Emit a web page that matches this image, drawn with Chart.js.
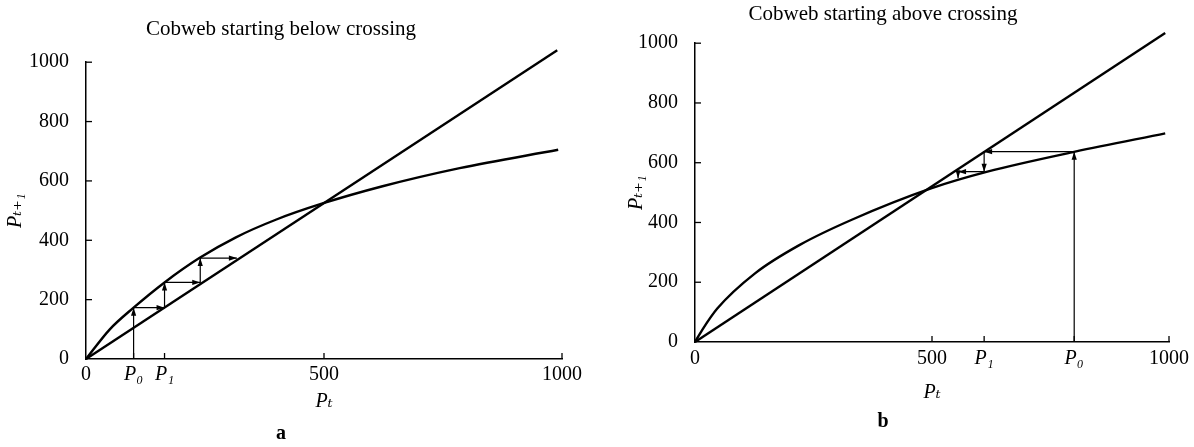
<!DOCTYPE html>
<html>
<head>
<meta charset="utf-8">
<script src="https://cdn.jsdelivr.net/npm/chart.js@4"></script>
<style>
  html, body { margin: 0; padding: 0; background: #fff; }
  .panel { position: absolute; top: 0; width: 597px; height: 447px; }
  #panelA { left: 0; }
  #panelB { left: 597px; }
</style>
</head>
<body>
<div class="panel" id="panelA"><canvas id="chartA"></canvas></div>
<div class="panel" id="panelB"><canvas id="chartB"></canvas></div>
<script>
// ---- panel a : starting below crossing ----
const diagAx = [0, 990];
const diagAy = [0, 1040];
const curveAx = [0, 50, 100, 165, 238, 315, 400, 497, 623, 785, 992];
const curveAy = [0, 100, 173, 258, 340, 410, 470, 524, 582, 643, 705];
const cobwebAx = [100, 100, 165, 165, 240, 240, 317];
const cobwebAy = [0, 173, 173, 258, 258, 340, 340];
const xTicksA = [0, 100, 165, 500, 1000];
const xLabelsA = ["0", "P₀", "P₁", "500", "1000"];

// ---- panel b : starting above crossing ----
const diagBx = [0, 992];
const diagBy = [0, 1034];
const curveBx = [0, 15, 47, 126, 221, 332, 498, 617, 802, 992];
const curveBy = [0, 40, 112, 229, 325, 410, 514, 570, 637, 698];
const cobwebBx = [800, 800, 610, 610, 555, 555];
const cobwebBy = [0, 637, 637, 570, 570, 548];
const xTicksB = [0, 500, 610, 800, 1000];
const xLabelsB = ["0", "500", "P₁", "P₀", "1000"];

const yTicks = [0, 200, 400, 600, 800, 1000];

const SERIF = "'Liberation Serif', 'DejaVu Serif', serif";
Chart.defaults.font.family = SERIF;
Chart.defaults.color = "#000";

const pts = (xs, ys) => xs.map((x, i) => ({ x, y: ys[i] }));

// arrowhead at the end of every segment of a dataset marked arrows:true
const arrowHeads = {
  id: "arrowHeads",
  afterDatasetsDraw(chart) {
    const ctx = chart.ctx;
    chart.data.datasets.forEach((ds, i) => {
      if (!ds.arrows) return;
      const els = chart.getDatasetMeta(i).data;
      ctx.save();
      ctx.fillStyle = "#000";
      for (let k = 1; k < els.length; k++) {
        const a = els[k - 1], b = els[k];
        const ang = Math.atan2(b.y - a.y, b.x - a.x);
        const len = 8, half = 2.6;
        const bx = b.x - len * Math.cos(ang), by = b.y - len * Math.sin(ang);
        ctx.beginPath();
        ctx.moveTo(b.x, b.y);
        ctx.lineTo(bx + half * Math.sin(ang), by - half * Math.cos(ang));
        ctx.lineTo(bx - half * Math.sin(ang), by + half * Math.cos(ang));
        ctx.closePath();
        ctx.fill();
      }
      ctx.restore();
    });
  }
};

// short tick marks pointing into the plot, like the printed figure
const inwardTicks = {
  id: "inwardTicks",
  afterDraw(chart) {
    const { ctx, scales: { x, y } } = chart;
    ctx.save();
    ctx.strokeStyle = "#000";
    ctx.lineWidth = 1.3;
    x.ticks.forEach(t => {
      if (t.value === 0) return;
      const px = x.getPixelForValue(t.value);
      ctx.beginPath();
      ctx.moveTo(px, x.top);
      ctx.lineTo(px, x.top - 6);
      ctx.stroke();
    });
    y.ticks.forEach(t => {
      if (t.value === 0) return;
      const py = y.getPixelForValue(t.value);
      ctx.beginPath();
      ctx.moveTo(y.right, py);
      ctx.lineTo(y.right + 6, py);
      ctx.stroke();
    });
    ctx.restore();
  }
};

function makeChart(id, d, L) {
  const isP = v => {
    const i = d.ticks.indexOf(v);
    return i >= 0 && d.labels[i].startsWith("P");
  };
  return new Chart(document.getElementById(id), {
    type: "scatter",
    data: {
      datasets: [
        { data: pts(d.diagX, d.diagY), showLine: true, borderColor: "#000", borderWidth: 2.4, pointRadius: 0, clip: false },
        { data: pts(d.curveX, d.curveY), showLine: true, borderColor: "#000", borderWidth: 2.4, pointRadius: 0, cubicInterpolationMode: "monotone", clip: false },
        { data: pts(d.webX, d.webY), showLine: true, borderColor: "#000", borderWidth: 1.2, pointRadius: 0, clip: false, arrows: true }
      ]
    },
    options: {
      responsive: true,
      maintainAspectRatio: false,
      animation: false,
      layout: { padding: { top: L.padTop, right: L.padRight, bottom: L.padBottom, left: 0 } },
      plugins: {
        legend: { display: false },
        tooltip: { enabled: false },
        title: {
          display: true,
          text: d.title,
          color: "#000",
          font: { size: 21, weight: "normal", family: SERIF },
          padding: { top: L.titleTop, bottom: L.titleBottom }
        },
        subtitle: {
          display: true,
          position: "bottom",
          text: d.tag,
          color: "#000",
          font: { size: 20, weight: "bold", family: SERIF },
          padding: 0
        }
      },
      scales: {
        x: {
          type: "linear",
          min: 0,
          max: 1000,
          afterFit: s => { s.height = L.xHeight; },
          afterBuildTicks: s => { s.ticks = d.ticks.map(v => ({ value: v })); },
          border: { display: true, color: "#000", width: 1.5 },
          grid: { display: false },
          ticks: {
            autoSkip: false,
            maxRotation: 0,
            padding: L.xLabelPad,
            color: "#000",
            font: c => ({ size: 20, family: SERIF, style: (c.tick && isP(c.tick.value)) ? "italic" : "normal" }),
            callback: v => d.labels[d.ticks.indexOf(v)]
          },
          title: {
            display: true,
            text: "Pₜ",
            color: "#000",
            font: { size: 20, style: "italic", family: SERIF },
            padding: { top: 0, bottom: L.xTitleBottom }
          }
        },
        y: {
          type: "linear",
          min: 0,
          max: 1000,
          afterFit: s => { s.width = L.yWidth; },
          afterBuildTicks: s => { s.ticks = yTicks.map(v => ({ value: v })); },
          border: { display: true, color: "#000", width: 1.5 },
          grid: { display: false },
          ticks: { padding: 9, color: "#000", font: { size: 20, family: SERIF }, callback: v => String(v) },
          title: {
            display: true,
            text: "Pₜ₊₁",
            color: "#000",
            font: { size: 20, style: "italic", family: SERIF },
            padding: { top: L.yTitleTop, bottom: 0 }
          }
        }
      }
    },
    plugins: [arrowHeads, inwardTicks]
  });
}

makeChart("chartA",
  { diagX: diagAx, diagY: diagAy, curveX: curveAx, curveY: curveAy, webX: cobwebAx, webY: cobwebAy,
    ticks: xTicksA, labels: xLabelsA, title: "Cobweb starting below crossing", tag: "a" },
  { padTop: 0, titleTop: 17, titleBottom: 20, padRight: 35, padBottom: 1, xHeight: 63, xLabelPad: -4, xTitleBottom: 8, yWidth: 86, yTitleTop: 4 });

makeChart("chartB",
  { diagX: diagBx, diagY: diagBy, curveX: curveBx, curveY: curveBy, webX: cobwebBx, webY: cobwebBy,
    ticks: xTicksB, labels: xLabelsB, title: "Cobweb starting above crossing", tag: "b" },
  { padTop: 2, titleTop: 0, titleBottom: 16, padRight: 25, padBottom: 13, xHeight: 68, xLabelPad: -3, xTitleBottom: 5, yWidth: 98, yTitleTop: 28 });
</script>
</body>
</html>
